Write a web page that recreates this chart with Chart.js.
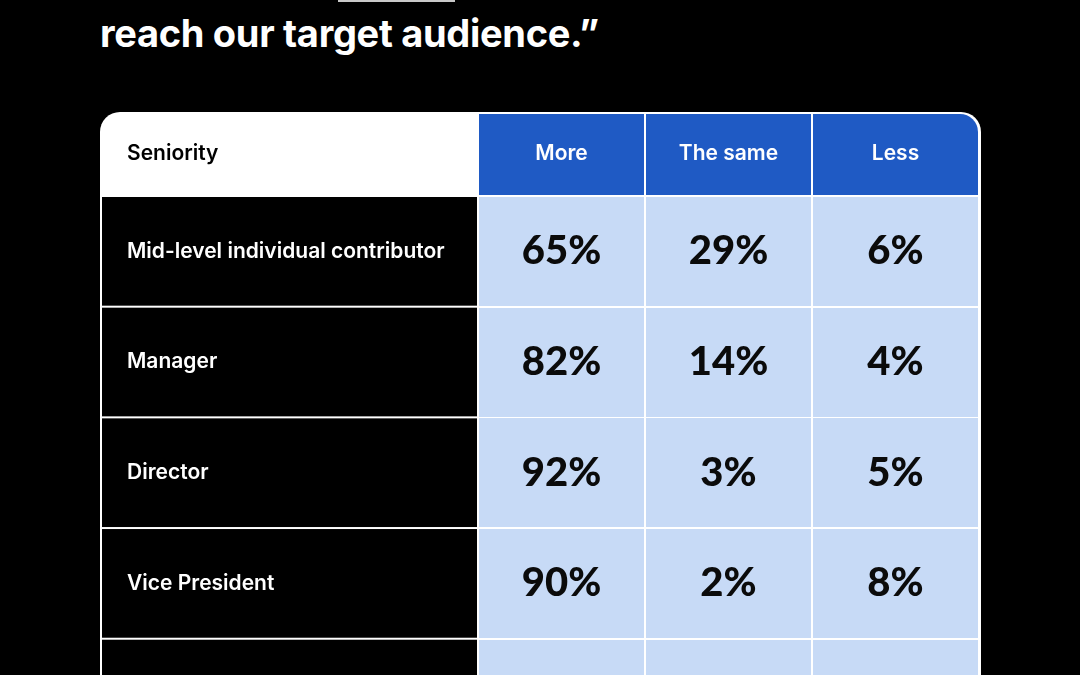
<!DOCTYPE html>
<html lang="en">
<head>
    <meta charset="UTF-8">
    <meta name="viewport" content="width=device-width, initial-scale=1.0">
    <title>Seniority table</title>
    <script src="https://cdn.jsdelivr.net/npm/chart.js"></script>
    <style>
        html, body { margin: 0; padding: 0; background: #000; width: 1080px; height: 675px; overflow: hidden; }
        .quote { position: absolute; left: 100px; top: 10px; margin: 0; color: #fff; font: 700 38px/46px Inter, sans-serif; letter-spacing: -0.3px; white-space: nowrap; }
        .mark { position: absolute; left: 338px; top: 0; width: 117px; height: 2px; background: #c8c8c8; }
        #wrap { position: absolute; left: 0; top: 0; width: 1080px; height: 765px; }
    </style>
</head>
<body>
    <div class="mark"></div>
    <h1 class="quote">reach our target audience.”</h1>
    <div id="wrap"><canvas id="table"></canvas></div>

    <script>
        // Table data
        const firstColumnTitle = 'Seniority';
        const rows = ['Mid-level individual contributor', 'Manager', 'Director', 'Vice President', ''];
        const answers = ['More', 'The same', 'Less'];
        const more = [65, 82, 92, 90, null];
        const same = [29, 14, 3, 2, null];
        const less = [6, 4, 5, 8, null];

        const BLUE = '#1f5ac4';
        const LIGHT = '#c7daf6';
        const LINE = '#ffffff';
        const FONT = 'Inter, sans-serif';
        const NUM_FONT = 'Lato, sans-serif';

        // light blue cell used as the point style
        function cellImage(w, h, color) {
            const c = document.createElement('canvas');
            c.width = w;
            c.height = h;
            const g = c.getContext('2d');
            g.fillStyle = color;
            g.fillRect(0, 0, w, h);
            return c;
        }
        const cell = cellImage(165, 109, LIGHT);

        function topRoundRect(ctx, x, y, w, h, rl, rr) {
            ctx.beginPath();
            ctx.moveTo(x + rl, y);
            ctx.lineTo(x + w - rr, y);
            ctx.arcTo(x + w, y, x + w, y + rr, rr);
            ctx.lineTo(x + w, y + h);
            ctx.lineTo(x, y + h);
            ctx.lineTo(x, y + rl);
            ctx.arcTo(x, y, x + rl, y, rl);
            ctx.closePath();
            ctx.fill();
        }

        // frame, header cells and label cells, laid out from the scales
        const tableFrame = {
            id: 'tableFrame',
            beforeDraw(chart) {
                const { ctx, chartArea: area, scales: { x, y } } = chart;
                const left = 100, top = 112;
                const colHalf = (x.getPixelForValue(1) - x.getPixelForValue(0)) / 2;
                const rowHalf = (y.getPixelForValue(1) - y.getPixelForValue(0)) / 2;
                ctx.save();
                ctx.fillStyle = LINE;
                topRoundRect(ctx, left, top, area.right + 2 - left, area.bottom + 2 - top, 20, 20);

                ctx.fillStyle = BLUE;
                answers.forEach((a, i) => {
                    const cx = x.getPixelForValue(i);
                    const last = i === answers.length - 1;
                    topRoundRect(ctx, cx - colHalf + 1, top + 2, 2 * colHalf - 2, area.top - 1 - (top + 2), 0, last ? 18 : 0);
                });

                ctx.fillStyle = '#000';
                rows.forEach((r, i) => {
                    const cy = y.getPixelForValue(i);
                    ctx.fillRect(left + 2, cy - rowHalf + 1, area.left - 1 - (left + 2), 2 * rowHalf - 2);
                });

                ctx.fillStyle = '#000';
                ctx.font = '600 21px ' + FONT;
                ctx.textAlign = 'left';
                ctx.textBaseline = 'middle';
                ctx.fillText(firstColumnTitle, y.left, (top + area.top) / 2);
                ctx.restore();
            }
        };

        // percentages written in the middle of each cell
        const cellValues = {
            id: 'cellValues',
            afterDatasetsDraw(chart) {
                const ctx = chart.ctx;
                ctx.save();
                ctx.font = '900 40px ' + NUM_FONT;
                ctx.fillStyle = '#0b0b0b';
                ctx.textAlign = 'center';
                ctx.textBaseline = 'middle';
                chart.data.datasets.forEach((ds, j) => {
                    chart.getDatasetMeta(j).data.forEach((pt, i) => {
                        const v = ds.data[i].v;
                        if (v === null) return;
                        ctx.fillText(v + '%', pt.x, pt.y);
                    });
                });
                ctx.restore();
            }
        };

        const series = [more, same, less];
        const datasets = answers.map((a, j) => ({
            label: a,
            data: rows.map((r, i) => ({ x: a, y: r, v: series[j][i] })),
            pointStyle: cell,
            pointRadius: 1,
            pointHoverRadius: 1,
            showLine: false
        }));

        new Chart(document.getElementById('table'), {
            type: 'scatter',
            data: { datasets },
            options: {
                responsive: true,
                maintainAspectRatio: false,
                animation: false,
                events: [],
                layout: { padding: { left: 127, right: 101, top: 112, bottom: 7 } },
                plugins: {
                    legend: { display: false },
                    tooltip: { enabled: false }
                },
                scales: {
                    x: {
                        type: 'category',
                        labels: answers,
                        position: 'top',
                        offset: true,
                        grid: { display: false, drawTicks: false },
                        border: { display: false },
                        ticks: { color: '#fff', font: { family: FONT, size: 21, weight: '600' }, padding: 30 },
                        afterFit(s) { s.height = 84; }
                    },
                    y: {
                        type: 'category',
                        labels: rows,
                        offset: true,
                        grid: { display: false, drawTicks: false },
                        border: { display: false },
                        ticks: { color: '#fff', crossAlign: 'far', font: { family: FONT, size: 21, weight: '600' } },
                        afterFit(s) { s.width = 351; }
                    }
                }
            },
            plugins: [tableFrame, cellValues]
        });
    </script>
</body>
</html>
